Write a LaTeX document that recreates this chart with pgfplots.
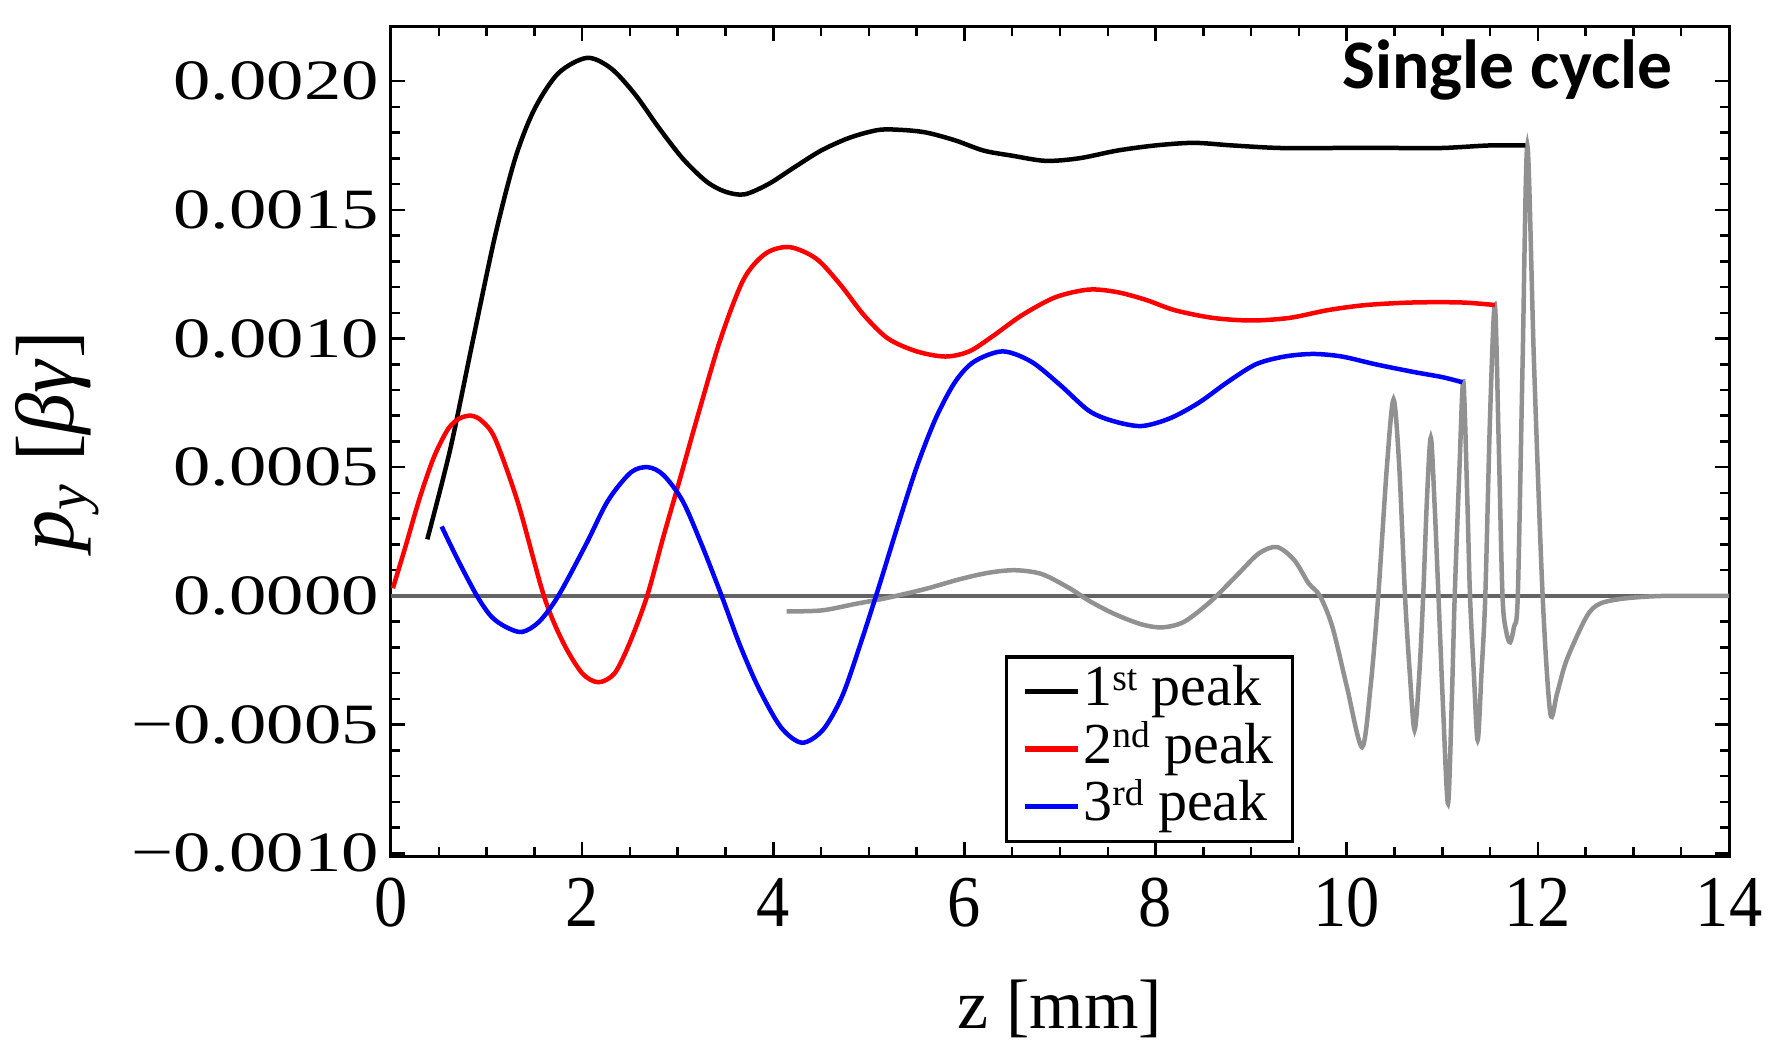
\documentclass[border=0pt]{standalone}
\usepackage{graphicx}
\usepackage{fontspec}
\setmainfont{Liberation Serif}
\newfontfamily\carlito{Carlito}
\usepackage{pgfplots}
\pgfplotsset{compat=1.18}
\newcommand\sy[1]{\scalebox{1.31}[1]{#1}}
\newcommand\sx[1]{\scalebox{0.91}[1]{#1}}
\newcommand\sups[1]{\raisebox{0.27em}{\fontsize{7.5}{8}\selectfont #1}}
\definecolor{zerogray}{RGB}{100,100,100}
\definecolor{curvegray}{RGB}{145,145,145}
\begin{document}
\begin{tikzpicture}
\useasboundingbox (-78.2pt,-37.4pt) rectangle (274.8pt,171.2pt);
\begin{axis}[
  scale only axis,
  width=267.6pt, height=165.8pt,
  xmin=0, xmax=14, ymin=-0.00101, ymax=0.00221,
  axis line style={line width=0.6pt},
  tick align=inside, tick pos=both,
  major tick length=2.8pt, minor tick length=1.8pt,
  every tick/.style={black, line width=0.5pt},
  xtick={0,2,...,14}, minor x tick num=3,
  xticklabels={\sx{0},\sx{2},\sx{4},\sx{6},\sx{8},\sx{10},\sx{12},\sx{14}},
  ytick={-0.001,-0.0005,0,0.0005,0.001,0.0015,0.002}, minor y tick num=4,
  yticklabels={\sy{−0.0010},\sy{−0.0005},\sy{0.0000},\sy{0.0005},\sy{0.0010},\sy{0.0015},\sy{0.0020}},
  scaled y ticks=false, scaled x ticks=false,
  xticklabel style={font=\fontsize{14.6}{16}\selectfont, anchor=north, inner sep=0pt, yshift=-4.2pt},
  yticklabel style={font=\fontsize{11.4}{13}\selectfont, anchor=east, inner sep=0pt, xshift=-2.2pt},
  xlabel={z [mm]},
  xlabel style={font=\fontsize{14}{16}\selectfont, at={(axis description cs:0.5,-0.2075)}, anchor=base, inner sep=0pt},
  ylabel={\textit{p}\textsubscript{\textit{y}} [\textit{βγ}]},
  ylabel style={font=\fontsize{16.5}{18}\selectfont, at={(axis description cs:-0.237,0.5)}, anchor=base, rotate=0, inner sep=0pt},
  legend style={at={(axis cs:6.42,-0.00023)}, anchor=north west, draw=black, line width=0.7pt,
    inner xsep=3.2pt, inner ysep=1.2pt, font=\fontsize{11.6}{13}\selectfont, row sep=0pt,
    nodes={inner sep=0.5pt, text height=8.1pt, text depth=2.4pt}},
  legend cell align=left,
  legend image code/.code={\draw[#1, line width=1.1pt] (0pt,0pt) -- (10.6pt,0pt);},
]
\addplot[zerogray, line width=0.65pt, forget plot] coordinates {(0,0) (14,0)};
\addplot[curvegray, line width=0.9pt, smooth, forget plot] coordinates {
(4.14,-0.00006) (4.51,-0.000056) (4.87,-0.00003) (5.16,-0.00001) (5.59,0.000027)
(5.94,0.000064) (6.25,0.00009) (6.53,0.0001) (6.81,0.000085) (7.10,0.00003)
(7.31,-0.00002) (7.57,-0.00007) (7.85,-0.00011) (8.07,-0.000122) (8.30,-0.0001)
(8.58,-0.00002) (8.85,0.00008) (9.08,0.000165) (9.27,0.00019) (9.45,0.00014)
(9.60,0.00005) (9.72,0) (9.85,-0.00012) (10.00,-0.00035) (10.16,-0.000587) (10.25,-0.00035)
(10.33,0) (10.42,0.0005) (10.49,0.000763) (10.55,0.0005) (10.61,0)
(10.66,-0.0003) (10.71,-0.000521) (10.76,-0.0003) (10.80,0) (10.84,0.00038)
(10.88,0.000615) (10.92,0.00035) (10.96,0) (11.01,-0.00045) (11.06,-0.000806)
(11.10,-0.0004) (11.13,0) (11.18,0.0005) (11.22,0.000833) (11.26,0.0004)
(11.29,0) (11.33,-0.0003) (11.37,-0.00056) (11.41,-0.0003) (11.45,0)
(11.50,0.0007) (11.55,0.00113) (11.59,0.0006) (11.63,0) (11.67,-0.00014)
(11.71,-0.00018) (11.75,-0.00012) (11.79,0) (11.84,0.0009) (11.89,0.00175)
(11.96,0.0009) (12.05,0) (12.13,-0.000455) (12.20,-0.00038) (12.30,-0.00025)
(12.51,-0.00008) (12.65,-0.00003) (12.90,-0.00001) (13.30,0) (14,0)
};
\addplot[black, line width=0.9pt, smooth] coordinates {
(0.38,0.00022) (0.62,0.00057) (0.85,0.00098) (1.09,0.00140) (1.30,0.00170)
(1.50,0.00189) (1.75,0.00203) (2.05,0.00209) (2.30,0.00205) (2.55,0.00195)
(2.80,0.00182) (3.05,0.00170) (3.30,0.00161) (3.50,0.00157) (3.70,0.00156)
(3.95,0.00160) (4.20,0.00166) (4.50,0.00173) (4.80,0.00178) (5.10,0.00181)
(5.35,0.00181) (5.60,0.00180) (5.90,0.00177) (6.20,0.00173) (6.50,0.00171)
(6.85,0.00169) (7.20,0.00170) (7.60,0.00173) (8.00,0.00175) (8.40,0.00176)
(8.80,0.00175) (9.30,0.00174) (9.90,0.00174) (10.50,0.00174)
(11.00,0.00174) (11.50,0.00175) (11.87,0.00175)
};
\addlegendentry{1\sups{st} peak}
\addplot[red, line width=0.9pt, smooth] coordinates {
(0.02,0.00003) (0.15,0.00019) (0.30,0.00038) (0.45,0.00054) (0.60,0.00065)
(0.72,0.00069) (0.84,0.00070) (0.95,0.00068) (1.09,0.00061) (1.33,0.00036)
(1.60,0.0) (1.80,-0.00018) (2.00,-0.00030) (2.17,-0.000335)
(2.34,-0.00030) (2.50,-0.00018) (2.68,0.0) (2.85,0.00023) (3.02,0.00045)
(3.21,0.00070) (3.45,0.00100) (3.69,0.00123) (3.92,0.00133) (4.17,0.001355)
(4.45,0.00131) (4.70,0.00121) (4.95,0.00109) (5.20,0.00100)
(5.50,0.00095) (5.80,0.00093) (6.05,0.00095) (6.30,0.00101) (6.60,0.00109)
(6.95,0.00116) (7.30,0.00119) (7.60,0.00118) (7.90,0.00115) (8.20,0.00111)
(8.60,0.00108) (9.00,0.00107) (9.40,0.00108) (9.80,0.00111) (10.20,0.00113)
(10.70,0.00114) (11.20,0.00114) (11.55,0.00113)
};
\addlegendentry{2\sups{nd} peak}
\addplot[blue, line width=0.9pt, smooth] coordinates {
(0.53,0.00027) (0.70,0.00014) (0.90,0.0) (1.05,-0.00008) (1.20,-0.00012)
(1.37,-0.00014) (1.55,-0.00010) (1.75,0.0) (2.04,0.00020) (2.27,0.00037)
(2.51,0.00048) (2.69,0.00050) (2.85,0.00047) (3.05,0.00037) (3.25,0.00020)
(3.46,0.0) (3.65,-0.00019) (3.85,-0.00036) (4.08,-0.00051) (4.30,-0.00057)
(4.52,-0.00052) (4.72,-0.00039) (4.90,-0.00020) (5.10,0.00003)
(5.30,0.00027) (5.50,0.00050) (5.70,0.00069) (5.90,0.00083) (6.10,0.00091)
(6.40,0.00095) (6.70,0.00091) (7.00,0.00082) (7.30,0.00072)
(7.55,0.00068) (7.85,0.00066) (8.15,0.00069) (8.45,0.00075) (8.75,0.00083)
(9.05,0.00090) (9.35,0.00093) (9.65,0.00094) (9.95,0.00093) (10.30,0.00090)
(10.70,0.00087) (11.00,0.00085) (11.21,0.00083)
};
\addlegendentry{3\sups{rd} peak}
\node[anchor=base east, inner sep=0pt, font=\carlito\bfseries\fontsize{13.9}{15}\selectfont] at (axis cs:13.42,0.001973) {Single cycle};
\end{axis}
\end{tikzpicture}
\end{document}
